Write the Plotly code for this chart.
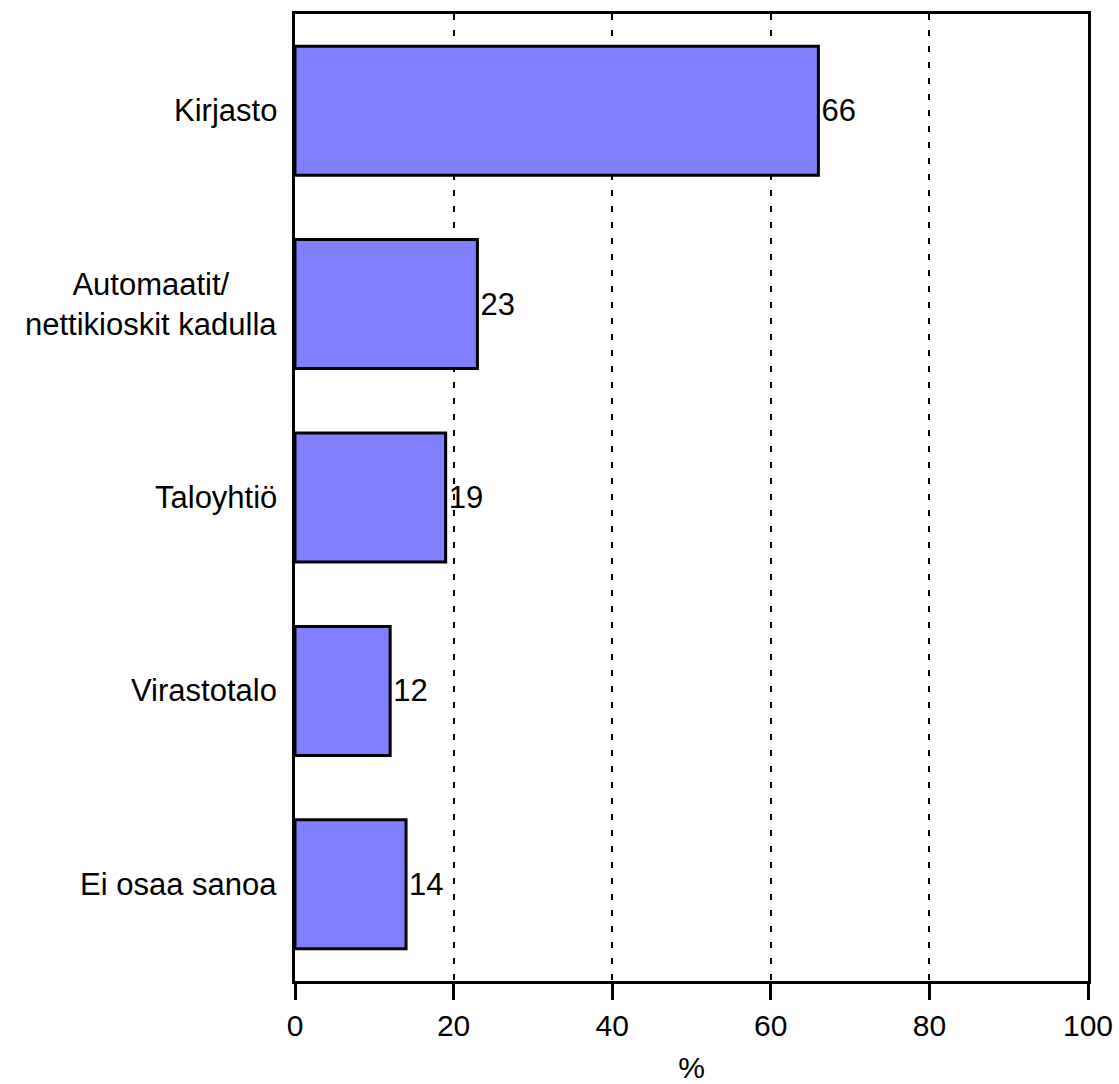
import plotly.graph_objects as go

categories = ["Kirjasto", "Automaatit/<br>nettikioskit kadulla", "Taloyhtiö", "Virastotalo", "Ei osaa sanoa"]
values = [66, 23, 19, 12, 14]
x_ticks = [0, 20, 40, 60, 80, 100]

FONT = "Liberation Sans, Arial, sans-serif"

fig = go.Figure()
fig.add_trace(go.Bar(
    y=categories, x=values, orientation="h",
    marker=dict(color="#8080FF", line=dict(color="black", width=3)),
    width=0.667,
    text=[str(v) for v in values], textposition="outside",
    textfont=dict(family=FONT, size=31, color="black"),
    cliponaxis=False,
))

for c in categories:
    fig.add_annotation(
        x=0, xref="paper", y=c, yref="y", text=c, showarrow=False,
        xanchor="right", yanchor="middle", xshift=-16, align="center",
        font=dict(family=FONT, size=31, color="black"),
    )

fig.update_layout(
    width=1119, height=1084,
    margin=dict(l=295, r=31, t=14, b=103),
    paper_bgcolor="white", plot_bgcolor="white",
    showlegend=False,
    font=dict(family=FONT, color="black"),
    xaxis=dict(
        range=[0, 100], tickvals=x_ticks, ticktext=[str(t) for t in x_ticks],
        showgrid=True, gridcolor="black", gridwidth=2, griddash="6px,10px",
        showline=True, linecolor="black", linewidth=3, mirror=True,
        ticks="outside", ticklen=16, tickwidth=3, tickcolor="black",
        tickfont=dict(family=FONT, size=30, color="black"),
        title=dict(text="%", font=dict(family=FONT, size=30, color="black"), standoff=16),
        zeroline=False, automargin=False,
    ),
    yaxis=dict(
        autorange="reversed", showticklabels=False, ticks="",
        showline=True, linecolor="black", linewidth=3, mirror=True,
        showgrid=False, automargin=False,
    ),
)

fig.write_html(
    "out.html",
    config={"displayModeBar": False},
    post_script="document.body.style.margin='0';document.body.style.overflow='hidden';",
)
